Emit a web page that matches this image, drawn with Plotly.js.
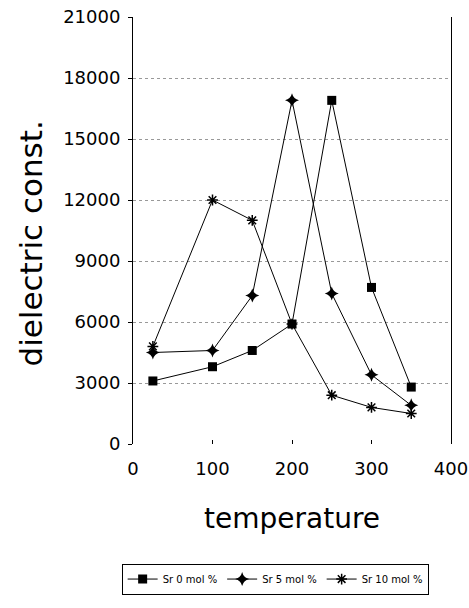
<!DOCTYPE html>
<html>
<head>
<meta charset="utf-8">
<script src="https://cdn.plot.ly/plotly-3.0.1.min.js"></script>
<style>html,body{margin:0;padding:0;background:#fff;}#chart{width:469px;height:608px;}</style>
</head>
<body>
<div id="chart"></div>
<script>
var temperature = [25, 100, 150, 200, 250, 300, 350];
var sr0 = [3100, 3800, 4600, 5900, 16900, 7700, 2800];
var sr5 = [4500, 4600, 7300, 16900, 7400, 3400, 1900];
var sr10 = [4800, 12000, 11000, 5900, 2400, 1800, 1500];
var seriesNames = ['Sr 0 mol %', 'Sr 5 mol %', 'Sr 10 mol %'];
var yTicks = [0, 3000, 6000, 9000, 12000, 15000, 18000, 21000];
var xTicks = [0, 100, 200, 300, 400];

var lineStyle = {color: '#000', width: 1};
var traces = [
  {x: temperature, y: sr0, name: seriesNames[0], mode: 'lines+markers', type: 'scatter',
   line: lineStyle, marker: {symbol: 'square', size: 9, color: '#000'}},
  {x: temperature, y: sr5, name: seriesNames[1], mode: 'lines+markers', type: 'scatter',
   line: lineStyle, marker: {symbol: 'star-diamond', size: 10, color: '#000'}},
  {x: temperature, y: sr10, name: seriesNames[2], mode: 'lines+markers', type: 'scatter',
   line: lineStyle, marker: {symbol: 'asterisk-open', size: 9, color: '#000', line: {color: '#000', width: 1.5}}}
];

var layout = {
  width: 469, height: 608,
  margin: {l: 133, r: 18, t: 17, b: 164, autoexpand: false},
  paper_bgcolor: '#fff', plot_bgcolor: '#fff',
  font: {family: 'DejaVu Sans, sans-serif', color: '#000'},
  showlegend: true,
  legend: {orientation: 'h', x: 0.447, xanchor: 'center', y: -0.28, yanchor: 'top',
    itemwidth: 30,
    font: {size: 10, color: '#000'}, bordercolor: '#000', borderwidth: 1, bgcolor: '#fff'},
  xaxis: {
    range: [0, 400], tickvals: xTicks, ticktext: xTicks.map(String),
    showgrid: false, zeroline: false, showline: false, automargin: false,
    ticks: 'inside', ticklen: 4, tickcolor: '#000', ticklabelstandoff: 12,
    ticklabeloverflow: 'allow',
    tickfont: {size: 18, color: '#000'},
    title: {text: 'temperature', font: {size: 28, color: '#000'}, standoff: 30}
  },
  yaxis: {
    range: [0, 21000], tickvals: yTicks, ticktext: yTicks.map(String),
    showgrid: true, gridcolor: '#999', griddash: 'dot', gridwidth: 1,
    zeroline: false, showline: true, linecolor: '#000', linewidth: 1, mirror: true,
    automargin: false,
    ticks: 'outside', ticklen: 4, tickcolor: '#000', ticklabelstandoff: 4,
    tickfont: {size: 18, color: '#000'}
  },
  annotations: [{
    text: 'dielectric const.', textangle: -90, showarrow: false,
    xref: 'paper', yref: 'paper', x: -0.32, y: 0.47, xanchor: 'center', yanchor: 'middle',
    font: {size: 31, color: '#000'}
  }]
};

Plotly.newPlot('chart', traces, layout, {displayModeBar: false, staticPlot: true});
</script>
</body>
</html>
